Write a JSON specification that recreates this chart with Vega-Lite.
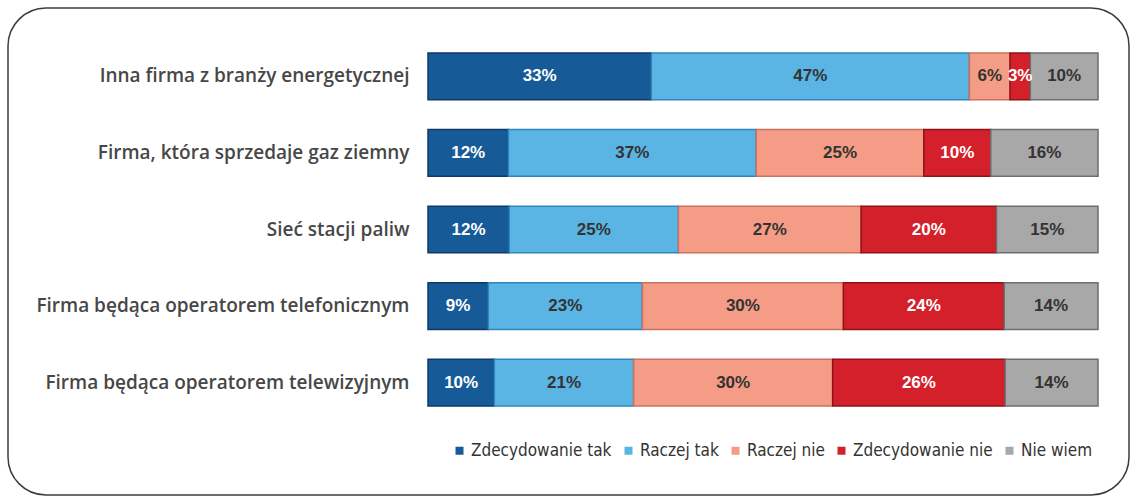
{
  "$schema": "https://vega.github.io/schema/vega-lite/v6.json",
  "autosize": "none",
  "padding": {"left": 8, "top": 8, "right": 1, "bottom": 1},
  "width": 1121,
  "height": 487,
  "background": "white",
  "config": {
    "view": {"stroke": "#3c3c3c", "strokeWidth": 1.5, "cornerRadius": 38}
  },
  "data": {
    "values": [
      {"c": "Inna firma z branży energetycznej", "a": "Zdecydowanie tak", "o": 1, "v": 33, "l": "33%"},
      {"c": "Inna firma z branży energetycznej", "a": "Raczej tak", "o": 2, "v": 47, "l": "47%"},
      {"c": "Inna firma z branży energetycznej", "a": "Raczej nie", "o": 3, "v": 6, "l": "6%"},
      {"c": "Inna firma z branży energetycznej", "a": "Zdecydowanie nie", "o": 4, "v": 3, "l": "3%"},
      {"c": "Inna firma z branży energetycznej", "a": "Nie wiem", "o": 5, "v": 10, "l": "10%"},
      {"c": "Firma, która sprzedaje gaz ziemny", "a": "Zdecydowanie tak", "o": 1, "v": 12, "l": "12%"},
      {"c": "Firma, która sprzedaje gaz ziemny", "a": "Raczej tak", "o": 2, "v": 37, "l": "37%"},
      {"c": "Firma, która sprzedaje gaz ziemny", "a": "Raczej nie", "o": 3, "v": 25, "l": "25%"},
      {"c": "Firma, która sprzedaje gaz ziemny", "a": "Zdecydowanie nie", "o": 4, "v": 10, "l": "10%"},
      {"c": "Firma, która sprzedaje gaz ziemny", "a": "Nie wiem", "o": 5, "v": 16, "l": "16%"},
      {"c": "Sieć stacji paliw", "a": "Zdecydowanie tak", "o": 1, "v": 12, "l": "12%"},
      {"c": "Sieć stacji paliw", "a": "Raczej tak", "o": 2, "v": 25, "l": "25%"},
      {"c": "Sieć stacji paliw", "a": "Raczej nie", "o": 3, "v": 27, "l": "27%"},
      {"c": "Sieć stacji paliw", "a": "Zdecydowanie nie", "o": 4, "v": 20, "l": "20%"},
      {"c": "Sieć stacji paliw", "a": "Nie wiem", "o": 5, "v": 15, "l": "15%"},
      {"c": "Firma będąca operatorem telefonicznym", "a": "Zdecydowanie tak", "o": 1, "v": 9, "l": "9%"},
      {"c": "Firma będąca operatorem telefonicznym", "a": "Raczej tak", "o": 2, "v": 23, "l": "23%"},
      {"c": "Firma będąca operatorem telefonicznym", "a": "Raczej nie", "o": 3, "v": 30, "l": "30%"},
      {"c": "Firma będąca operatorem telefonicznym", "a": "Zdecydowanie nie", "o": 4, "v": 24, "l": "24%"},
      {"c": "Firma będąca operatorem telefonicznym", "a": "Nie wiem", "o": 5, "v": 14, "l": "14%"},
      {"c": "Firma będąca operatorem telewizyjnym", "a": "Zdecydowanie tak", "o": 1, "v": 10, "l": "10%"},
      {"c": "Firma będąca operatorem telewizyjnym", "a": "Raczej tak", "o": 2, "v": 21, "l": "21%"},
      {"c": "Firma będąca operatorem telewizyjnym", "a": "Raczej nie", "o": 3, "v": 30, "l": "30%"},
      {"c": "Firma będąca operatorem telewizyjnym", "a": "Zdecydowanie nie", "o": 4, "v": 26, "l": "26%"},
      {"c": "Firma będąca operatorem telewizyjnym", "a": "Nie wiem", "o": 5, "v": 14, "l": "14%"}
    ]
  },
  "encoding": {
    "y": {
      "field": "c",
      "type": "nominal",
      "sort": null,
      "title": null,
      "scale": {"range": [30, 413], "paddingInner": 0.39, "paddingOuter": 0.195},
      "axis": {
        "offset": -405,
        "ticks": false,
        "domain": false,
        "labelPadding": 4,
        "labelFont": "Open Sans",
        "labelFontSize": 19,
        "labelFontWeight": 600,
        "labelColor": "#474747",
        "labelLimit": 400
      }
    },
    "x": {
      "field": "v",
      "type": "quantitative",
      "stack": "normalize",
      "scale": {"range": [420, 1090]},
      "axis": null
    },
    "order": {"field": "o", "type": "quantitative"}
  },
  "layer": [
    {
      "mark": {"type": "bar", "strokeWidth": 1.5},
      "encoding": {
        "color": {
          "field": "a",
          "type": "nominal",
          "sort": ["Zdecydowanie tak", "Raczej tak", "Raczej nie", "Zdecydowanie nie", "Nie wiem"],
          "scale": {
            "domain": ["Zdecydowanie tak", "Raczej tak", "Raczej nie", "Zdecydowanie nie", "Nie wiem"],
            "range": ["#175a98", "#5ab4e4", "#f49c86", "#d3202b", "#a8a8a8"]
          },
          "legend": {
            "title": null,
            "orient": "none",
            "legendX": 443,
            "legendY": 434,
            "direction": "horizontal",
            "symbolType": "square",
            "symbolSize": 64,
            "symbolStrokeWidth": 0,
            "labelFont": "DejaVu Sans Condensed, Liberation Sans",
            "labelFontSize": 17,
            "labelColor": "#333333",
            "labelOffset": 3,
            "columnPadding": 8,
            "labelLimit": 300
          }
        },
        "stroke": {
          "field": "a",
          "type": "nominal",
          "scale": {
            "domain": ["Zdecydowanie tak", "Raczej tak", "Raczej nie", "Zdecydowanie nie", "Nie wiem"],
            "range": ["#0d3a66", "#2f86bf", "#c9725d", "#8e1218", "#6e6e6e"]
          },
          "legend": null
        }
      }
    },
    {
      "mark": {"type": "text", "font": "Liberation Sans", "fontSize": 17, "fontWeight": "bold"},
      "encoding": {
        "x": {"field": "v", "type": "quantitative", "stack": "normalize", "bandPosition": 0.5},
        "text": {"field": "l", "type": "nominal"},
        "color": {
          "condition": {"test": "datum.a === 'Zdecydowanie tak' || datum.a === 'Zdecydowanie nie'", "value": "white"},
          "value": "#333333"
        }
      }
    }
  ]
}
